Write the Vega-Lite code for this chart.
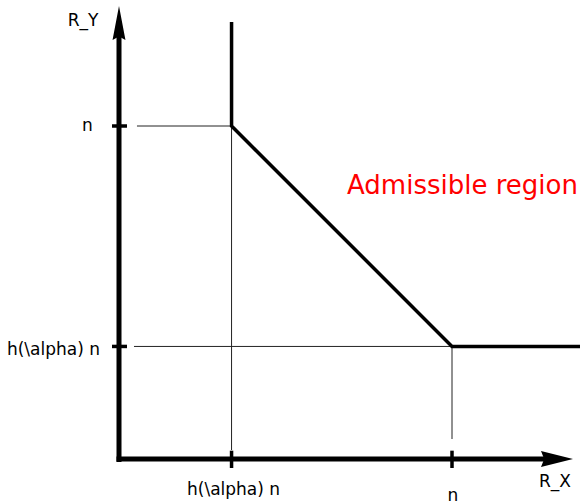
{
  "$schema": "https://vega.github.io/schema/vega-lite/v6.json",
  "width": 580,
  "height": 504,
  "padding": 0,
  "autosize": {"type": "none"},
  "background": "white",
  "config": {"view": {"stroke": null}},
  "datasets": {
    "thin": [
      {"x": 0.054, "y": 1, "x2": 0.338, "y2": 1},
      {"x": 0.045, "y": 0.338, "x2": 1, "y2": 0.338},
      {"x": 0.338, "y": 1, "x2": 0.338, "y2": 0.027},
      {"x": 1, "y": 0.338, "x2": 1, "y2": 0.06}
    ],
    "boundary": [
      {"order": 1, "x": 0.338, "y": 1.312},
      {"order": 2, "x": 0.338, "y": 1},
      {"order": 3, "x": 1, "y": 0.338},
      {"order": 4, "x": 1.3844, "y": 0.338}
    ],
    "axes": [
      {"x": 0, "y": -0.009, "x2": 0, "y2": 1.27},
      {"x": -0.0075, "y": 0, "x2": 1.28, "y2": 0}
    ],
    "ticks": [
      {"x": -0.021, "y": 1, "x2": 0.024, "y2": 1},
      {"x": -0.021, "y": 0.338, "x2": 0.024, "y2": 0.338},
      {"x": 0.338, "y": 0.025, "x2": 0.338, "y2": -0.027},
      {"x": 1, "y": 0.025, "x2": 1, "y2": -0.027}
    ],
    "arrows": [
      {"dir": "up", "x": 0, "y": 1.3093},
      {"dir": "right", "x": 1.3153, "y": 0}
    ],
    "labels": [
      {"text": "R_Y", "x": -0.108, "y": 1.3003, "align": "center"},
      {"text": "n", "x": -0.0946, "y": 0.9835, "align": "center"},
      {"text": "h(\\alpha) n", "x": -0.057, "y": 0.3123, "align": "right"},
      {"text": "h(\\alpha) n", "x": 0.344, "y": -0.1081, "align": "center"},
      {"text": "n", "x": 1.003, "y": -0.1276, "align": "center"},
      {"text": "R_X", "x": 1.309, "y": -0.0841, "align": "center"}
    ],
    "region": [
      {"text": "Admissible region", "x": 0.6847, "y": 0.7958}
    ]
  },
  "encoding": {
    "x": {"field": "x", "type": "quantitative", "scale": {"domain": [-0.35736, 1.38438], "nice": false, "zero": false}, "axis": null},
    "y": {"field": "y", "type": "quantitative", "scale": {"domain": [-0.13514, 1.37838], "nice": false, "zero": false}, "axis": null}
  },
  "layer": [
    {
      "data": {"name": "thin"},
      "mark": {"type": "rule", "color": "#222222", "strokeWidth": 1},
      "encoding": {"x2": {"field": "x2"}, "y2": {"field": "y2"}}
    },
    {
      "data": {"name": "boundary"},
      "mark": {"type": "line", "color": "black", "strokeWidth": 3.5, "strokeJoin": "miter"},
      "encoding": {"order": {"field": "order", "type": "quantitative"}}
    },
    {
      "data": {"name": "axes"},
      "mark": {"type": "rule", "color": "black", "strokeWidth": 5},
      "encoding": {"x2": {"field": "x2"}, "y2": {"field": "y2"}}
    },
    {
      "data": {"name": "ticks"},
      "mark": {"type": "rule", "color": "black", "strokeWidth": 3.5},
      "encoding": {"x2": {"field": "x2"}, "y2": {"field": "y2"}}
    },
    {
      "data": {"name": "arrows"},
      "transform": [{"filter": "datum.dir === 'up'"}],
      "mark": {"type": "point", "filled": true, "color": "black", "opacity": 1, "strokeWidth": 0, "size": 1156, "shape": "M0,-1L0.38,1L0,0.8L-0.38,1Z"},
      "encoding": {}
    },
    {
      "data": {"name": "arrows"},
      "transform": [{"filter": "datum.dir === 'right'"}],
      "mark": {"type": "point", "filled": true, "color": "black", "opacity": 1, "strokeWidth": 0, "size": 1024, "shape": "M1,0L-1,-0.5L-0.8,0L-1,0.5Z"},
      "encoding": {}
    },
    {
      "data": {"name": "labels"},
      "transform": [{"filter": "datum.align === 'center'"}],
      "mark": {"type": "text", "font": "DejaVu Sans", "fontSize": 17, "align": "center", "baseline": "alphabetic", "color": "black"},
      "encoding": {"text": {"field": "text"}}
    },
    {
      "data": {"name": "labels"},
      "transform": [{"filter": "datum.align === 'right'"}],
      "mark": {"type": "text", "font": "DejaVu Sans", "fontSize": 17, "align": "right", "baseline": "alphabetic", "color": "black"},
      "encoding": {"text": {"field": "text"}}
    },
    {
      "data": {"name": "region"},
      "mark": {"type": "text", "font": "DejaVu Sans", "fontSize": 26, "align": "left", "baseline": "alphabetic", "color": "#ff0000"},
      "encoding": {"text": {"field": "text"}}
    }
  ]
}
